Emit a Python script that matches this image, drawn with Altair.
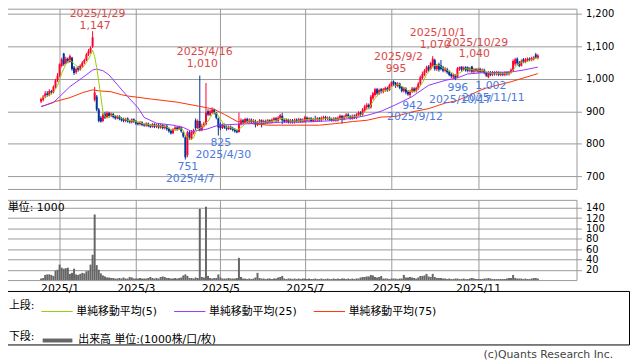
import altair as alt
import pandas as pd
import numpy as np

# ---------------- trading calendar (Tokyo) ----------------
HOLIDAYS = ["2024-12-31", "2025-01-01", "2025-01-02", "2025-01-03", "2025-01-13",
            "2025-02-11", "2025-02-24", "2025-03-20", "2025-04-29", "2025-05-05",
            "2025-05-06", "2025-07-21", "2025-08-11", "2025-09-15", "2025-09-23",
            "2025-10-13", "2025-11-03", "2025-11-24"]
dates = [d for d in pd.bdate_range("2024-12-18", "2025-12-16")
         if d.strftime("%Y-%m-%d") not in HOLIDAYS]

# ---------------- daily prices (one line per month) ----------------
opens = [
    930, 935, 945, 955, 950, 962, 958, 975, 995,
    1010, 1040, 1078, 1048, 1062, 1052, 1065, 1035, 1020, 1035, 1028, 1038, 1050, 1058, 1075, 1082, 1100, 935, 945,
    905, 880, 870, 892, 880, 895, 885, 892, 884, 878, 885, 878, 876, 870, 878, 870, 866, 875,
    870, 864, 860, 866, 860, 856, 862, 857, 852, 860, 852, 858, 850, 858, 848, 855, 846, 840, 832, 845,
    850, 845, 850, 835, 820, 765, 835, 815, 832, 872, 848, 870, 842, 855, 860, 900, 888, 895, 905, 895, 878,
    860, 848, 858, 852, 845, 852, 848, 845, 840, 836, 860, 872, 865, 876, 868, 874, 866, 870, 858, 866,
    872, 862, 870, 864, 872, 866, 872, 878, 870, 878, 886, 874, 868, 874, 866, 872, 866, 874, 868, 875, 868,
    868, 880, 872, 878, 870, 876, 872, 878, 872, 878, 882, 876, 880, 876, 872, 878, 872, 878, 886, 876, 882, 890,
    884, 878, 886, 880, 888, 896, 890, 902, 912, 920, 912, 940, 950, 968, 955, 968, 960, 965, 972, 965,
    978, 992, 988, 978, 985, 975, 962, 970, 960, 950, 960, 970, 962, 970, 985, 1002, 1012, 1022, 1038, 1030,
    1040, 1058, 1030, 1045, 1042, 1035, 1025, 1030, 1022, 1015, 1005, 1010, 1005, 1030, 1038, 1028, 1036, 1035, 1025, 1038, 1022, 1030,
    1022, 1030, 1022, 1028, 1018, 1005, 1020, 1012, 1020, 1014, 1020, 1012, 1018, 1012, 1020, 1014, 1020, 1025,
    1045, 1062, 1050, 1040, 1060, 1052, 1056, 1062, 1058, 1060, 1075, 1064,
]
closes = [
    938, 945, 955, 950, 962, 958, 975, 995, 1010,
    1045, 1060, 1045, 1062, 1055, 1070, 1030, 1018, 1030, 1028, 1040, 1050, 1058, 1075, 1085, 1095, 1128, 958, 905,
    870, 868, 890, 880, 895, 885, 892, 882, 878, 885, 876, 872, 870, 876, 868, 866, 875, 868,
    862, 860, 866, 858, 856, 862, 855, 852, 860, 852, 858, 850, 858, 848, 855, 845, 838, 832, 845, 850,
    845, 852, 838, 822, 758, 835, 818, 836, 840, 848, 870, 842, 855, 862, 895, 890, 900, 905, 895, 880, 850,
    848, 858, 850, 845, 852, 846, 842, 838, 835, 862, 872, 865, 876, 868, 874, 866, 872, 858, 866, 872,
    862, 870, 864, 872, 866, 874, 878, 870, 880, 888, 872, 868, 874, 866, 872, 866, 874, 868, 875, 868, 874,
    882, 872, 878, 870, 876, 872, 878, 872, 880, 882, 876, 880, 874, 872, 878, 872, 880, 886, 876, 884, 890, 884,
    878, 886, 880, 890, 896, 890, 905, 915, 920, 912, 945, 955, 968, 955, 965, 960, 968, 972, 965, 980,
    990, 985, 978, 985, 972, 962, 970, 958, 952, 962, 970, 962, 972, 985, 1005, 1015, 1025, 1035, 1028, 1048,
    1062, 1030, 1040, 1028, 1030, 1025, 1032, 1020, 1012, 1008, 1012, 1002, 1032, 1036, 1028, 1035, 1026, 1025, 1032, 1022, 1030, 1024,
    1030, 1022, 1028, 1018, 1010, 1020, 1012, 1020, 1014, 1020, 1012, 1018, 1012, 1020, 1014, 1020, 1028, 1055,
    1060, 1048, 1040, 1055, 1052, 1060, 1062, 1058, 1064, 1066, 1066, 1072,
]
highs = [
    942, 950, 962, 962, 968, 966, 980, 1000, 1018,
    1048, 1065, 1080, 1068, 1066, 1075, 1068, 1040, 1035, 1040, 1045, 1055, 1062, 1080, 1092, 1100, 1147, 975, 950,
    910, 885, 895, 898, 900, 898, 896, 895, 888, 888, 888, 882, 880, 880, 881, 874, 878, 878,
    873, 868, 870, 869, 863, 866, 865, 860, 864, 863, 862, 861, 862, 860, 858, 858, 850, 844, 848, 854,
    854, 856, 853, 838, 825, 840, 840, 842, 846, 878, 875, 1010, 862, 868, 987, 906, 905, 912, 908, 898, 880,
    865, 862, 862, 856, 856, 856, 852, 848, 843, 896, 878, 876, 880, 880, 878, 878, 876, 874, 870, 876,
    875, 874, 874, 876, 875, 878, 882, 882, 885, 892, 895, 878, 878, 877, 876, 876, 878, 878, 880, 878, 878,
    886, 884, 882, 882, 880, 886, 882, 882, 884, 886, 886, 884, 884, 880, 882, 882, 884, 890, 888, 888, 894, 894,
    888, 890, 890, 894, 900, 900, 910, 920, 925, 924, 950, 960, 972, 972, 970, 972, 972, 976, 976, 985,
    992, 995, 990, 990, 988, 978, 975, 974, 965, 966, 975, 974, 976, 990, 1010, 1022, 1030, 1040, 1042, 1052,
    1070, 1062, 1046, 1050, 1058, 1040, 1036, 1034, 1026, 1018, 1016, 1014, 1036, 1038, 1038, 1038, 1039, 1038, 1036, 1040, 1034, 1033,
    1034, 1034, 1032, 1031, 1022, 1024, 1024, 1024, 1023, 1024, 1023, 1022, 1021, 1023, 1023, 1024, 1032, 1060,
    1065, 1066, 1055, 1060, 1064, 1064, 1066, 1066, 1068, 1070, 1080, 1076,
]
lows = [
    925, 930, 940, 945, 946, 952, 955, 970, 990,
    1005, 1035, 1040, 1045, 1048, 1050, 1025, 1012, 1015, 1022, 1025, 1035, 1045, 1055, 1070, 1078, 1095, 930, 900,
    866, 865, 866, 876, 878, 880, 882, 878, 874, 875, 872, 868, 866, 866, 865, 862, 862, 864,
    858, 856, 856, 854, 852, 852, 851, 848, 849, 848, 848, 846, 846, 844, 844, 840, 834, 828, 830, 840,
    840, 842, 834, 818, 751, 758, 812, 812, 828, 842, 845, 838, 838, 850, 856, 885, 885, 892, 890, 875, 825,
    842, 845, 846, 840, 842, 842, 838, 834, 832, 834, 856, 860, 862, 864, 864, 862, 862, 850, 854, 862,
    850, 858, 860, 860, 862, 862, 868, 866, 866, 874, 860, 864, 864, 862, 862, 862, 862, 864, 864, 864, 864,
    865, 868, 868, 866, 866, 868, 868, 868, 868, 874, 872, 872, 870, 868, 868, 868, 868, 874, 862, 872, 878, 878,
    874, 874, 876, 876, 884, 884, 886, 898, 905, 906, 908, 935, 945, 950, 950, 955, 955, 960, 960, 962,
    975, 978, 972, 974, 968, 958, 958, 952, 948, 942, 956, 958, 958, 966, 980, 998, 1008, 1018, 1022, 1026,
    1035, 1025, 1024, 1022, 1026, 1020, 1020, 1015, 1008, 1002, 1000, 996, 1002, 1025, 1022, 1024, 1022, 1020, 1020, 1018, 1018, 1020,
    1018, 1018, 1018, 1014, 1006, 1002, 1008, 1008, 1010, 1010, 1008, 1008, 1008, 1008, 1010, 1010, 1016, 1022,
    1040, 1042, 1036, 1038, 1048, 1048, 1052, 1054, 1054, 1056, 1062, 1060,
]
# volume, unit 1000 shares
volumes = [
    3, 4, 10, 11, 11, 10, 8, 18, 20,
    30, 24, 22, 23, 24, 12, 14, 22, 11, 10, 12, 14, 13, 17, 18, 30, 49, 127, 29,
    20, 13, 9, 7, 5, 5, 4, 4, 3, 3, 4, 3, 5, 3, 3, 6, 5, 3,
    3, 3, 4, 3, 3, 3, 4, 6, 4, 3, 4, 3, 6, 7, 6, 4, 4, 3, 3, 4,
    3, 4, 5, 9, 11, 8, 4, 4, 3, 5, 4, 138, 6, 5, 142, 8, 4, 3, 4, 4, 11,
    5, 3, 3, 3, 4, 3, 3, 3, 4, 43, 6, 3, 3, 2, 3, 2, 3, 5, 14, 4,
    3, 3, 2, 3, 3, 2, 3, 3, 5, 6, 8, 3, 2, 3, 3, 2, 3, 2, 3, 2, 3,
    3, 2, 3, 2, 2, 3, 2, 2, 3, 2, 2, 3, 2, 2, 3, 2, 3, 2, 3, 3, 2, 3,
    2, 3, 2, 3, 3, 5, 6, 6, 7, 7, 10, 9, 6, 5, 6, 8, 3, 3, 3, 2,
    3, 3, 3, 2, 3, 3, 10, 5, 5, 6, 5, 4, 3, 5, 8, 8, 9, 12, 7, 6,
    12, 6, 4, 4, 4, 3, 3, 2, 3, 2, 2, 3, 3, 2, 2, 3, 2, 2, 3, 4, 3, 2,
    2, 2, 2, 3, 3, 4, 3, 2, 2, 2, 2, 2, 2, 2, 3, 4, 4, 10,
    4, 3, 3, 3, 2, 3, 2, 2, 3, 4, 4, 3,
]

# moving averages (trading-day index -> value)
ma25_idx = [0, 2, 6, 9, 14, 20, 25, 27, 30, 33, 37, 42, 47, 50, 56, 64, 69, 73, 80, 86,
            95, 108, 116, 128, 139, 151, 158, 165, 172, 180, 188, 196, 202, 207, 215, 228, 234, 241]
ma25_val = [915, 918, 927, 945, 976, 1003, 1027, 1030, 1025, 1012, 982, 945, 911, 881, 863, 857, 850, 838, 844, 857,
            860, 863, 866, 867, 870, 878, 887, 900, 920, 945, 980, 995, 1003, 1015, 1019, 1021, 1027, 1036]
ma75_idx = [0, 7, 14, 20, 25, 28, 34, 39, 42, 53, 66, 77, 84, 89, 95, 102, 110, 124, 135, 143,
            151, 158, 165, 172, 180, 188, 196, 202, 215, 228, 241]
ma75_val = [914, 930, 942, 957, 966, 963, 960, 951, 947, 938, 928, 915, 906, 890, 869, 862, 857, 857, 857, 862,
            868, 872, 882, 884, 898, 908, 925, 933, 970, 991, 1016]

# annotated swing highs / lows
high_dates = ["2025-01-29", "2025-04-16", "2025-09-02", "2025-10-01", "2025-10-29"]
low_dates = ["2025-04-07", "2025-04-30", "2025-09-12", "2025-10-17", "2025-11-11"]

ma_names = ["単純移動平均(5)", "単純移動平均(25)", "単純移動平均(75)"]
vol_name = "出来高 単位:(1000株/口/枚)"
price_ticks = [700, 800, 900, 1000, 1100, 1200]
vol_ticks = [20, 40, 60, 80, 100, 120, 140]
unit_label = "単位: 1000"
copyright_label = "(c)Quants Research Inc."

# ---------------- styles ----------------
RED, BLUE = "#ff0033", "#003399"
C5, C25, C75 = "#99cc00", "#9933ff", "#ff3300"
GRID = "#999999"
VOLC = "#666666"
RED_TXT, BLUE_TXT = "#d94848", "#4a7ae0"
FONT = "DejaVu Sans, Noto Sans CJK JP"

# ---------------- tables ----------------
n = len(dates)
date_str = [d.strftime("%Y-%m-%d") for d in dates]
df = pd.DataFrame({"i": range(n), "date": date_str, "open": opens, "close": closes,
                   "high": highs, "low": lows, "vol": volumes})
df["dir"] = np.where(df["close"] >= df["open"], "up", "down")
df["sma5"] = df["close"].rolling(5, min_periods=1).mean()
ma25 = pd.DataFrame({"i": ma25_idx, "v": ma25_val})
ma75 = pd.DataFrame({"i": ma75_idx, "v": ma75_val})


def fmt_date(s):
    y, m, d = s.split("-")
    return f"{int(y)}/{int(m)}/{int(d)}"


hi_rows = [{"i": date_str.index(s), "p": highs[date_str.index(s)], "dl": fmt_date(s),
            "vl": f"{highs[date_str.index(s)]:,}"} for s in high_dates]
lo_rows = [{"i": date_str.index(s), "p": lows[date_str.index(s)], "dl": fmt_date(s),
            "vl": f"{lows[date_str.index(s)]:,}"} for s in low_dates]
hi_df = pd.DataFrame(hi_rows)
lo_df = pd.DataFrame(lo_rows)

# month ticks: first trading day of odd months of 2025
month_ticks, month_labels = [], []
prev = None
for k, d in enumerate(dates):
    if d.month != prev and d.year == 2025 and d.month % 2 == 1:
        month_ticks.append(k)
        month_labels.append(f"{d.year}/{d.month}")
    prev = d.month
label_expr = "".join(f"datum.value == {t} ? '{l}' : " for t, l in zip(month_ticks, month_labels)) + "''"

# ---------------- geometry ----------------
W = 575
H_TOP, H_VOL, H_LEG = 182, 81, 54
X_DOM = [-14.12, 257.36]
Y_DOM = [660.3, 1216.2]
V_DOM = [0, 155.3]

xs = alt.Scale(domain=X_DOM, nice=False, zero=False)
ys = alt.Scale(domain=Y_DOM, nice=False, zero=False)

X_AX = alt.Axis(values=month_ticks, labels=False, ticks=False, domain=False,
                grid=True, gridColor=GRID, gridOpacity=1)
Y_AX = alt.Axis(orient="right", values=price_ticks, format=",.0f", grid=True, gridColor=GRID,
                gridOpacity=1, tickColor=GRID, tickSize=5, domain=False, labelFontSize=10,
                labelPadding=4, labelColor="#000", labelFont=FONT, labelOverlap=False,
                labelBound=False, labelFlush=False)


def X(field="i"):
    return alt.X(f"{field}:Q", scale=xs, title=None, axis=X_AX)


def Y(field):
    return alt.Y(f"{field}:Q", scale=ys, title=None, axis=Y_AX)


ccol = alt.Color("dir:N", scale=alt.Scale(domain=["up", "down"], range=[RED, BLUE]), legend=None)

base = alt.Chart(df)
wicks = base.mark_rule(strokeWidth=1).encode(x=X(), y=Y("low"), y2="high:Q", color=ccol)
bodies = base.mark_bar(size=2).encode(x=X(), y=Y("open"), y2="close:Q", color=ccol)
l75 = alt.Chart(ma75).mark_line(color=C75, strokeWidth=1).encode(x=X(), y=Y("v"))
l25 = alt.Chart(ma25).mark_line(color=C25, strokeWidth=1).encode(x=X(), y=Y("v"))
l5 = base.mark_line(color=C5, strokeWidth=1).encode(x=X(), y=Y("sma5"))


def ann(data, dy, dx, color, field):
    return alt.Chart(data).mark_text(dy=dy, dx=dx, baseline="middle", align="center", fontSize=11,
                                     font=FONT, color=color).encode(
        x=X(), y=Y("p"), text=f"{field}:N")


hi_main = hi_df[hi_df["i"] != date_str.index(high_dates[0])]
hi_first = hi_df[hi_df["i"] == date_str.index(high_dates[0])]
anns = [
    ann(hi_main, -23.5, 5, RED_TXT, "dl"), ann(hi_main, -11.5, 2.5, RED_TXT, "vl"),
    ann(hi_first, -17, 5, RED_TXT, "dl"), ann(hi_first, -5.5, 2.5, RED_TXT, "vl"),
    ann(lo_df, 20, 5, BLUE_TXT, "dl"), ann(lo_df, 8, 2.5, BLUE_TXT, "vl"),
]

top = alt.layer(wicks, bodies, l75, l25, l5, *anns).properties(width=W, height=H_TOP)

# ---------------- volume ----------------
vs = alt.Scale(domain=V_DOM, nice=False, zero=False)
vol_bars = base.mark_bar(size=2, color=VOLC).encode(
    x=alt.X("i:Q", scale=xs, title=None,
            axis=alt.Axis(values=month_ticks, labelExpr=label_expr, ticks=False, domain=False, grid=True,
                          gridColor=GRID, gridOpacity=1, labelFontSize=11, labelPadding=3,
                          labelColor="#000", labelFont=FONT, labelFlush=False, labelOverlap=False)),
    y=alt.Y("vol:Q", scale=vs, title=None,
            axis=alt.Axis(orient="right", values=vol_ticks, grid=True, gridColor=GRID, gridOpacity=1,
                          tickColor=GRID, tickSize=5, domain=False, labelFontSize=10, labelPadding=4,
                          labelColor="#000", labelFont=FONT, labelOverlap=False, labelBound=False,
                          labelFlush=False)))
unit_txt = alt.Chart(pd.DataFrame({"t": [unit_label]})).mark_text(
    align="left", baseline="middle", fontSize=11, font=FONT, color="#000").encode(
    x=alt.value(1), y=alt.value(8), text="t:N")
vol = alt.layer(vol_bars, unit_txt).properties(width=W, height=H_VOL)

# ---------------- legend box ----------------
leg_ma = alt.Chart(pd.DataFrame({"name": ma_names})).mark_point(opacity=0).encode(
    color=alt.Color("name:N", scale=alt.Scale(domain=ma_names, range=[C5, C25, C75]),
                    legend=alt.Legend(title="上段:", orient="none", legendX=2, legendY=4,
                                      direction="horizontal", titleOrient="left", symbolType="stroke",
                                      symbolSize=1000, symbolStrokeWidth=1, symbolOpacity=1,
                                      labelFontSize=11, titleFontSize=11, titleFontWeight="normal",
                                      labelFont=FONT, titleFont=FONT, columnPadding=14, labelOffset=3,
                                      titlePadding=6, labelColor="#000", titleColor="#000")))
leg_vol = alt.Chart(pd.DataFrame({"vname": [vol_name]})).mark_point(opacity=0).encode(
    color=alt.Color("vname:N", scale=alt.Scale(domain=[vol_name], range=[VOLC]),
                    legend=alt.Legend(title="下段:", orient="none", legendX=2, legendY=33,
                                      direction="horizontal", titleOrient="left", symbolType="stroke",
                                      symbolSize=900, symbolStrokeWidth=4, symbolOpacity=1,
                                      labelFontSize=11, titleFontSize=11, titleFontWeight="normal",
                                      labelFont=FONT, titleFont=FONT, labelOffset=4,
                                      titlePadding=6, labelColor="#000", titleColor="#000")))
copy_txt = alt.Chart(pd.DataFrame({"t": [copyright_label]})).mark_text(
    align="right", baseline="middle", fontSize=11, font=FONT, color="#444").encode(
    x=alt.value(612), y=alt.value(65), text="t:N")
legend_box = alt.layer(leg_ma, leg_vol, copy_txt).resolve_scale(color="independent").properties(
    width=628, height=H_LEG, view=alt.ViewBackground(stroke="#000", strokeWidth=1))

chart = alt.vconcat(top, vol, legend_box, spacing=11, bounds="flush").properties(
    padding={"left": -2, "top": -2, "right": 0, "bottom": 0}).configure(
    font=FONT).configure_view(stroke=GRID, strokeWidth=1)

chart.save("out.html", embed_options={"renderer": "svg", "actions": False})
